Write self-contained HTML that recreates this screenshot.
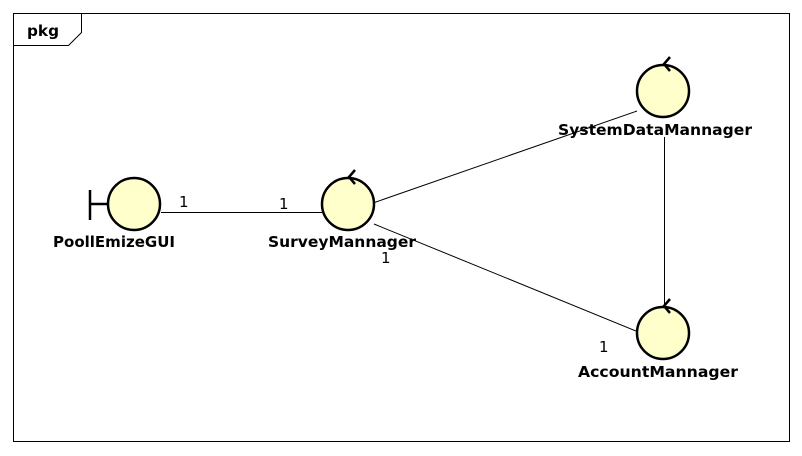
<!DOCTYPE html>
<html><head><meta charset="utf-8"><style>
body{margin:0;background:#fff;}
svg{display:block;}
text{font-family:"DejaVu Sans","Liberation Sans",sans-serif;}
</style></head><body>
<svg width="802" height="456" viewBox="0 0 802 456">
<rect x="13.5" y="13.5" width="776" height="428" fill="#fff" stroke="#000" stroke-width="1"/>
<path d="M13.5 45.5 H68.5 L81.5 32.5 V13.5" fill="none" stroke="#000"/>
<text x="27" y="36" font-size="15" font-weight="bold" textLength="32" lengthAdjust="spacingAndGlyphs">pkg</text>
<g stroke="#000" stroke-width="1" fill="none">
<line x1="161" y1="212.5" x2="322" y2="212.5"/>
<line x1="373" y1="203" x2="637" y2="111"/>
<line x1="374" y1="224" x2="636" y2="331"/>
<line x1="664.5" y1="137" x2="664.5" y2="307"/>
</g>
<g stroke="#000" stroke-width="2.5" fill="#ffffcc">
<line x1="90" y1="190" x2="90" y2="220" />
<line x1="90" y1="204" x2="108" y2="204"/>
<circle cx="134" cy="204" r="26"/>
<circle cx="348" cy="204" r="26"/>
<circle cx="663" cy="91" r="26"/>
<circle cx="663" cy="333" r="26"/>
<path d="M355 170 L349 177 L355 184" fill="none"/>
<path d="M670 57 L664 64 L670 71" fill="none"/>
<path d="M670 299 L664 306 L670 313" fill="none"/>
</g>
<g font-size="15" font-weight="bold" lengthAdjust="spacingAndGlyphs">
<text x="53" y="247" textLength="122" lengthAdjust="spacingAndGlyphs">PoollEmizeGUI</text>
<text x="268" y="247" textLength="148" lengthAdjust="spacingAndGlyphs">SurveyMannager</text>
<text x="558" y="135" textLength="194" lengthAdjust="spacingAndGlyphs">SystemDataMannager</text>
<text x="578" y="377" textLength="160" lengthAdjust="spacingAndGlyphs">AccountMannager</text>
</g>
<g font-size="15">
<text x="179" y="207">1</text>
<text x="279" y="209">1</text>
<text x="381" y="263">1</text>
<text x="599" y="352">1</text>
</g>
</svg>
</body></html>
